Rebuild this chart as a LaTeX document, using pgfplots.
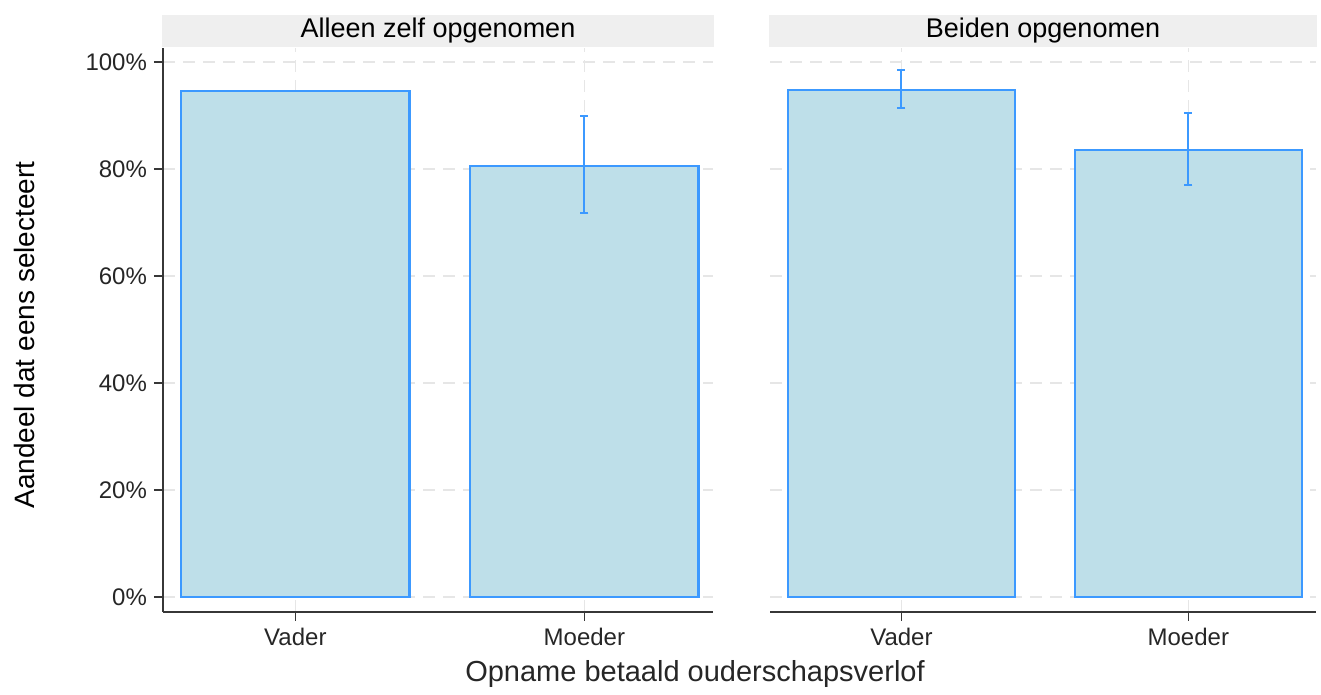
\documentclass[border=0pt]{standalone}
\usepackage{fontspec}
\setmainfont{Liberation Sans}
\usepackage{pgfplots}
\pgfplotsset{compat=1.18}

\definecolor{barfill}{RGB}{190,223,233}
\definecolor{baredge}{RGB}{60,153,255}
\definecolor{stripbg}{RGB}{239,239,239}
\definecolor{gridc}{RGB}{230,230,230}
\definecolor{axc}{RGB}{55,55,55}

\pgfplotsset{
  panel/.style={
    scale only axis, height=282pt,
    ymin=-2.8, ymax=102.6, xmin=-0.458, xmax=1.445,
    axis x line*=bottom, axis y line*=left,
    axis line style={axc, line width=0.8pt, -},
    xtick={0,1}, xticklabels={Vader,Moeder},
    ytick={0,20,...,100},
    ymajorgrids, xmajorgrids,
    grid style={gridc, line width=0.8pt, dash pattern=on 6pt off 4pt},
    tick align=outside, major tick length=4.5pt,
    tick style={axc, line width=0.8pt},
    ticklabel style={font=\fontsize{12}{14}\selectfont, text=black!85},
    /pgf/number format/assume math mode=true,
    every axis title/.style={at={(axis description cs:0.5,1)}, anchor=south,
      yshift=0.5pt, fill=stripbg, minimum height=16pt, inner sep=0pt,
      font=\fontsize{13.5}{15}\selectfont},
    ybar, bar width=0.79,
    error bars/y dir=both, error bars/y explicit,
    error bars/error mark=|,
    error bars/error bar style={baredge, line width=1pt},
    error bars/error mark options={baredge, line width=1pt, mark size=2pt},
  },
  bars/.style={draw=baredge, fill=barfill, line width=1.1pt},
}

\begin{document}
\begin{tikzpicture}
% page frame: 1321 x 688 px at 0.5pt per px, origin at the left panel's corner
\path (-81.5pt,-38pt) rectangle (579pt,306pt);

\begin{axis}[panel, width=275pt,
    title={Alleen zelf opgenomen},
    title style={minimum width=276pt},
    yticklabel={\pgfmathprintnumber{\tick}\%},
    ylabel={Aandeel dat eens selecteert},
    every axis y label/.style={at={(axis description cs:-0.251,0.491)},
      rotate=90, anchor=center, font=\fontsize{14}{16}\selectfont},
]
\addplot[bars] coordinates {
  (0,94.6) += (0,0) -= (0,0)
  (1,80.6) += (0,9.3) -= (0,8.8)
};
\end{axis}

\begin{axis}[panel, width=273pt, at={(303.5pt,0)},
    title={Beiden opgenomen},
    title style={minimum width=274pt},
    yticklabels={},
    y axis line style={draw=none},
    ytick style={draw=none},
]
\addplot[bars] coordinates {
  (0,94.7) += (0,3.7) -= (0,3.3)
  (1,83.6) += (0,6.9) -= (0,6.6)
};
\end{axis}

\node[font=\fontsize{14.5}{16}\selectfont, text=black!85] at (266pt,-31pt)
  {Opname betaald ouderschapsverlof};
\end{tikzpicture}
\end{document}
